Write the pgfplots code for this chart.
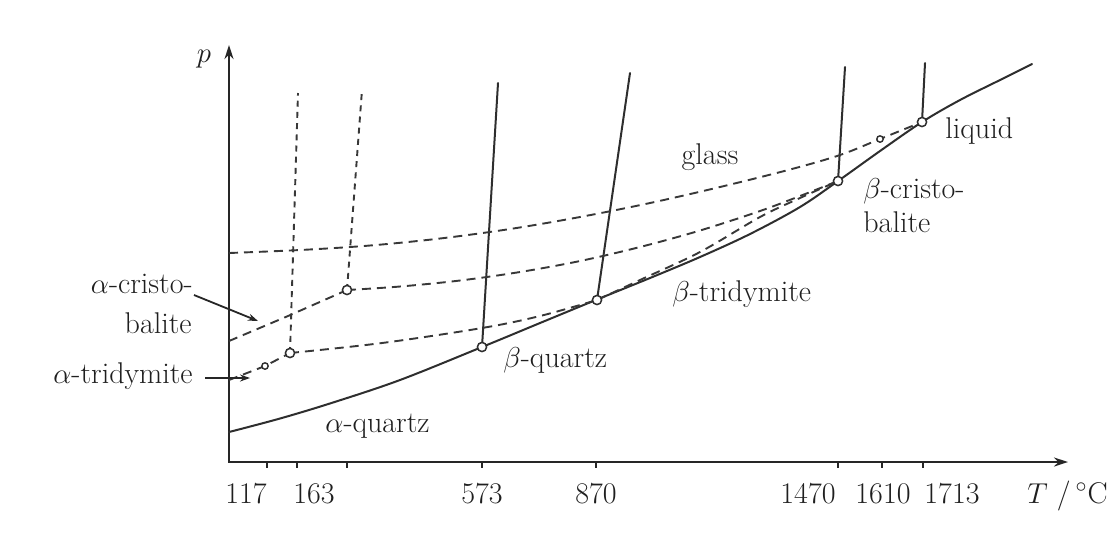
\documentclass[border=0pt]{standalone}
\usepackage{fontspec}
\usepackage{pgfplots}
\pgfplotsset{compat=1.18}
\usetikzlibrary{arrows.meta}
\tikzset{
  lab/.style={font=\fontsize{15}{18}\selectfont, inner sep=0pt, text=black!88},
  sol/.style={draw=black!82, line width=1pt, line cap=round},
  dsh/.style={draw=black!78, line width=0.95pt, dash pattern=on 4.5pt off 3pt},
  vds/.style={draw=black!78, line width=0.95pt, dash pattern=on 3pt off 2.6pt},
}
\begin{document}
\begin{tikzpicture}
\begin{axis}[
  width=555.5pt, height=269pt, scale only axis,
  xmin=0, xmax=1111, ymin=0, ymax=538, y dir=reverse,
  hide axis, clip=false,
]
\addplot[draw=none, forget plot] coordinates {(0,0) (1111,538)};
% axes
\addplot[draw=black!85, line width=1.1pt, {Stealth[length=7pt,width=4.5pt]}-{Stealth[length=7pt,width=4.5pt]}]
  coordinates {(229,45) (229,462) (1068,462)};
% ticks
\addplot[draw=black!85, line width=0.8pt, unbounded coords=jump] coordinates {
 (267,462) (267,468) (nan,nan) (297,462) (297,468) (nan,nan) (347,462) (347,468) (nan,nan)
 (482,462) (482,468) (nan,nan) (596,462) (596,468) (nan,nan) (838,462) (838,468) (nan,nan)
 (882,462) (882,468) (nan,nan) (923,462) (923,468)};
% main solid curve
\addplot[sol, smooth, tension=0.55] coordinates {
 (229,432) (280,418.5) (333,402.5) (400,380) (482,347) (540,323) (597,299.5) (650,278)
 (700,257) (750,234) (800,207) (838,181) (880,151) (922,122) (960,100) (1000,80) (1032,64)};
% solid transition lines
\addplot[sol] coordinates {(482,347) (498,83)};
\addplot[sol] coordinates {(597,300) (630,73)};
\addplot[sol] coordinates {(838,181) (845,67)};
\addplot[sol] coordinates {(922,122) (925,63)};
% glass
\addplot[dsh, smooth, tension=0.55] coordinates {
 (229,253) (300,250) (370,245.5) (440,238.5) (510,229) (580,217) (650,203) (720,187)
 (790,169.5) (840,155) (880,139) (922,122)};
% beta-cristobalite metastable
\addplot[dsh, smooth, tension=0.55] coordinates {
 (347,290) (400,286.5) (460,280.5) (520,272) (580,261) (640,247) (700,230.5) (760,211) (800,196) (838,181)};
% alpha-cristobalite
\addplot[dsh] coordinates {(229,341) (288,316) (347,290)};
% beta-tridymite metastable (low)
\addplot[dsh, smooth, tension=0.55] coordinates {(290,353) (382,343) (482,328) (540,316) (597,300)};
% dashed from 870 towards 1470
\addplot[dsh, smooth, tension=0.55] coordinates {(597,300) (640,280) (700,252) (760,217) (800,198) (838,181)};
% alpha-tridymite
\addplot[dsh] coordinates {(229,380) (265,366) (290,353)};
% vertical dashed lines
\addplot[vds] coordinates {(290,353) (298,93)};
\addplot[vds] coordinates {(347,290) (362,90)};
% label arrows
\addplot[draw=black!85, line width=0.9pt, -{Stealth[length=5pt,width=3.5pt]}] coordinates {(194,295) (258,321)};
\addplot[draw=black!85, line width=0.9pt, -{Stealth[length=5pt,width=3.5pt]}] coordinates {(205,378) (250,378)};
% markers
\addplot[only marks, mark=*, mark size=2.3pt, mark options={fill=white, draw=black!82, line width=0.75pt}]
  coordinates {(290,353) (347,290) (482,347) (597,300) (838,181) (922,122)};
\addplot[only marks, mark=*, mark size=1.6pt, mark options={fill=white, draw=black!82, line width=0.7pt}]
  coordinates {(265,366) (880,139)};
% texts
\node[lab, anchor=base] at (axis cs:204,62) {$p$};
\node[lab, anchor=base west] at (axis cs:1027,503) {$T$ /\,$^\circ$C};
\node[lab, anchor=base] at (axis cs:246,503) {117};
\node[lab, anchor=base] at (axis cs:314,503) {163};
\node[lab, anchor=base] at (axis cs:482,503) {573};
\node[lab, anchor=base] at (axis cs:596,503) {870};
\node[lab, anchor=base] at (axis cs:808,503) {1470};
\node[lab, anchor=base] at (axis cs:883,503) {1610};
\node[lab, anchor=base] at (axis cs:952,503) {1713};
\node[lab, anchor=base] at (axis cs:710,164) {glass};
\node[lab, anchor=base west] at (axis cs:945,138) {liquid};
\node[lab, anchor=base west] at (axis cs:863,198) {$\beta$-cristo-};
\node[lab, anchor=base west] at (axis cs:863,232) {balite};
\node[lab, anchor=base west] at (axis cs:672,301) {$\beta$-tridymite};
\node[lab, anchor=base west] at (axis cs:503,367) {$\beta$-quartz};
\node[lab, anchor=base west] at (axis cs:325,432) {$\alpha$-quartz};
\node[lab, anchor=base east] at (axis cs:193,293) {$\alpha$-cristo-};
\node[lab, anchor=base east] at (axis cs:192,333) {balite};
\node[lab, anchor=base east] at (axis cs:193,383) {$\alpha$-tridymite};
\end{axis}
\end{tikzpicture}
\end{document}
